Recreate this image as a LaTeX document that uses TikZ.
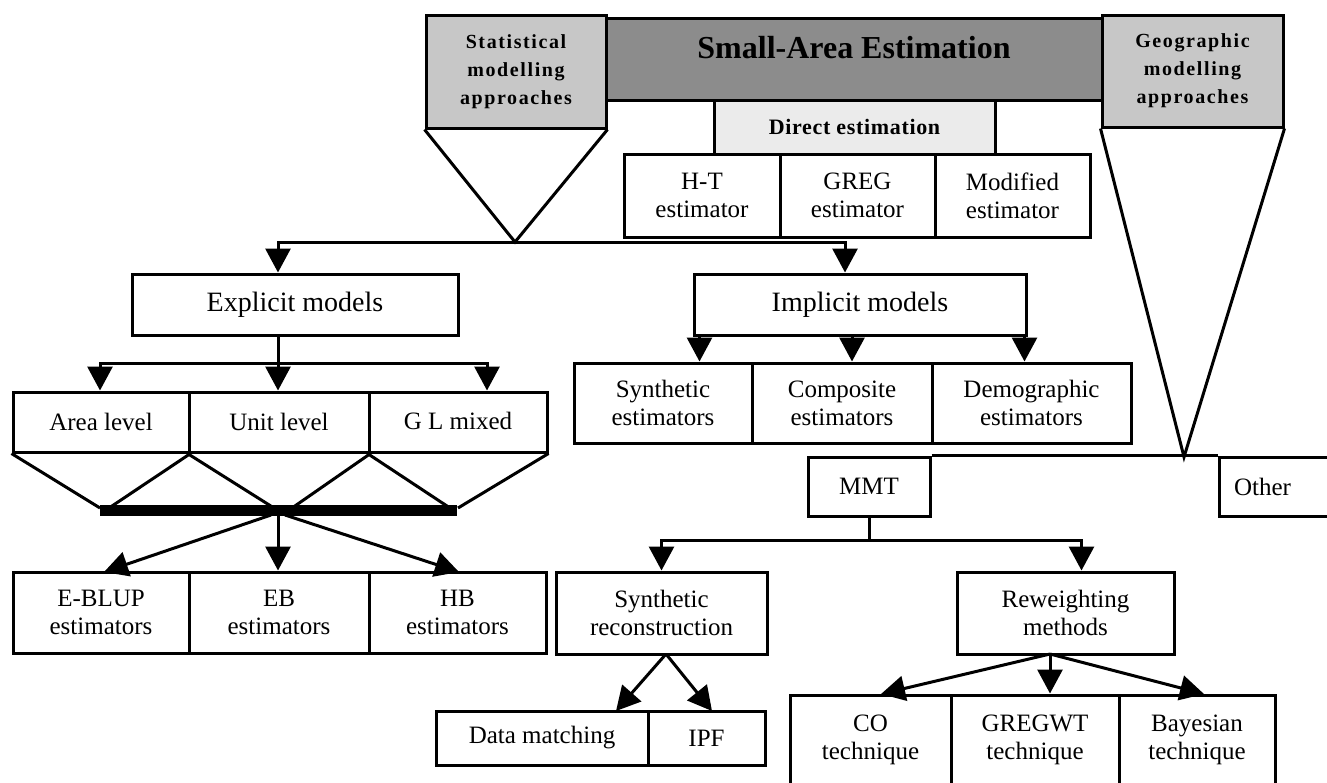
\documentclass[tikz,border=0pt]{standalone}
\usepackage{fontspec}
\setmainfont{Liberation Serif}
\newfontfamily\spacedserif[LetterSpace=8]{Liberation Serif}
\newfontfamily\lightspaced[LetterSpace=3]{Liberation Serif}
\usetikzlibrary{arrows.meta}
\definecolor{lgray}{gray}{0.78}
\definecolor{dgray}{gray}{0.55}
\definecolor{vlgray}{gray}{0.92}
\begin{document}
\begin{tikzpicture}[x=1pt,y=-1pt,
  every node/.style={font=\fontsize{25}{28}\selectfont},
  bx/.style={draw, line width=3pt, inner sep=0pt, align=center, fill=white},
  ln/.style={line width=3pt},
  arr/.style={line width=3pt, -{Triangle[length=24pt,width=25pt]}},
  big/.style={font=\fontsize{28}{32}\selectfont},
  head/.style={font=\spacedserif\bfseries\fontsize{20}{28}\selectfont},
]
\clip (0,0) rectangle (1327,782);
\fill[white] (0,0) rectangle (1327,782);

% ---- top ----
\node[bx, fill=dgray, minimum width=496pt, minimum height=82pt] (sae) at (854,59) {};
\node[font=\bfseries\fontsize{32}{36}\selectfont, inner sep=0pt] (saet) at (854,48) {Small-Area Estimation};
\node[bx, fill=lgray, minimum width=180pt, minimum height=113pt, head] (stat) at (516,71.5) {Statistical\\modelling\\approaches};
\node[bx, fill=lgray, minimum width=181pt, minimum height=112pt, head] (geo) at (1192.5,71) {Geographic\\modelling\\approaches};
\node[bx, fill=vlgray, minimum width=281pt, minimum height=54pt, font=\lightspaced\bfseries\fontsize{22}{26}\selectfont] (direct) at (854.5,127) {Direct estimation};
\node[bx, minimum width=156pt, minimum height=83pt] (ht) at (702,195.5) {H-T\\estimator};
\node[bx, minimum width=155pt, minimum height=83pt] (greg) at (857.5,195.5) {GREG\\estimator};
\node[bx, minimum width=155pt, minimum height=83pt] (modi) at (1012.5,195.5) {Modified\\estimator};

% ---- statistical branch ----
\coordinate (sapex) at (515,242);
\draw[ln] (stat.south west) -- (sapex) -- (stat.south east);
\node[bx, minimum width=326pt, minimum height=61pt, big] (explicit) at (295,304.5) {Explicit models};
\node[bx, minimum width=332pt, minimum height=61pt, big] (implicit) at (860,304.5) {Implicit models};
\coordinate (jl) at (278,242);
\coordinate (jr) at (845,242);
\draw[arr] (sapex) -- (jl) -- (jl |- explicit.north);
\draw[arr] (sapex) -- (jr) -- (jr |- implicit.north);

\node[bx, minimum width=176pt, minimum height=60pt] (area) at (101,422) {Area level};
\node[bx, minimum width=180pt, minimum height=60pt] (unit) at (279,422) {Unit level};
\node[bx, minimum width=178pt, minimum height=60pt] (glm) at (458,422) {\raisebox{3pt}{G L mixed}};
\coordinate (el) at (100,363);
\coordinate (er) at (487,363);
\draw[ln] (explicit.south -| jl) -- (jl |- el);
\draw[arr] (jl |- el) -- (jl |- unit.north);
\draw[arr] (jl |- el) -- (el) -- (el |- area.north);
\draw[arr] (jl |- el) -- (er) -- (er |- glm.north);

% trapezoid to the bar
\coordinate (bl) at (100,510);
\coordinate (br) at (457,510);
\draw[ln] (area.south west) -- (100,508);
\draw[ln] (area.south east) -- (109,508);
\draw[ln] (unit.south west) -- (274,508);
\draw[ln] (unit.south east) -- (292,508);
\draw[ln] (glm.south west) -- (450,508);
\draw[ln] (glm.south east) -- (458,508);
\draw[line width=11pt] (bl) -- (br);

\node[bx, minimum width=176pt, minimum height=81pt] (eblup) at (101,612.5) {E-BLUP\\estimators};
\node[bx, minimum width=180pt, minimum height=81pt] (eb) at (279,612.5) {EB\\estimators};
\node[bx, minimum width=177pt, minimum height=81pt] (hb) at (457.5,612.5) {HB\\estimators};
\coordinate (bc1) at (271,515);
\coordinate (bc2) at (278,515);
\coordinate (bc3) at (285,515);
\draw[arr] (bc1) -- (104,572);
\draw[arr] (bc2) -- (bc2 |- eb.north);
\draw[arr] (bc3) -- (459,572);

% implicit row
\node[bx, minimum width=178pt, minimum height=80pt] (syne) at (663,403) {Synthetic\\estimators};
\node[bx, minimum width=180pt, minimum height=80pt] (cmpe) at (842,403) {Composite\\estimators};
\node[bx, minimum width=199pt, minimum height=80pt] (deme) at (1031.5,403) {Demographic\\estimators};
\draw[arr] ([xshift=7pt]implicit.south west) coordinate (i1) -- (i1 |- syne.north);
\draw[arr] ([xshift=-8pt]implicit.south) coordinate (i2) -- (i2 |- cmpe.north);
\draw[arr] ([xshift=-3pt]implicit.south east) coordinate (i3) -- (i3 |- deme.north);

% ---- geographic branch ----
\coordinate (gapex) at (1184,457);
\draw[ln] (geo.south west) -- (gapex) -- (geo.south east);
\node[bx, minimum width=122pt, minimum height=59pt] (mmt) at (869,486.5) {MMT};
\node[bx, minimum width=111pt, minimum height=59pt] (other) at (1274.5,486.5) {Other\hspace*{24pt}};
\draw[ln] (mmt.north east) -- (other.north west);

\node[bx, minimum width=211pt, minimum height=82pt] (synrec) at (661.5,613) {Synthetic\\reconstruction};
\node[bx, minimum width=217pt, minimum height=82pt] (rew) at (1065.5,613) {Reweighting\\methods};
\coordinate (mj) at (869,540);
\draw[ln] (mmt.south) -- (mj);
\draw[arr] (mj) -| (synrec.north);
\draw[arr] (mj) -| ([xshift=16pt]rew.north);

\node[bx, minimum width=212pt, minimum height=54pt] (dm) at (542,738) {Data matching};
\node[bx, minimum width=117pt, minimum height=54pt] (ipf) at (706.5,738) {IPF};
\coordinate (s0) at (666,654);
\draw[arr] (s0) -- (616,711);
\draw[arr] (s0) -- (712,711);

\node[bx, minimum width=161pt, minimum height=95pt] (co) at (870.5,742.5) {CO\\technique\\[-18pt]};
\node[bx, minimum width=168pt, minimum height=95pt] (gregwt) at (1035,742.5) {GREGWT\\technique\\[-18pt]};
\node[bx, minimum width=156pt, minimum height=95pt] (bayes) at (1197,742.5) {Bayesian\\technique\\[-18pt]};
\coordinate (r0) at (1050,654);
\draw[arr] (r0) -- (881,694);
\draw[arr] (r0) -- (r0 |- gregwt.north);
\draw[arr] (r0) -- (1204,694);
\end{tikzpicture}
\end{document}
